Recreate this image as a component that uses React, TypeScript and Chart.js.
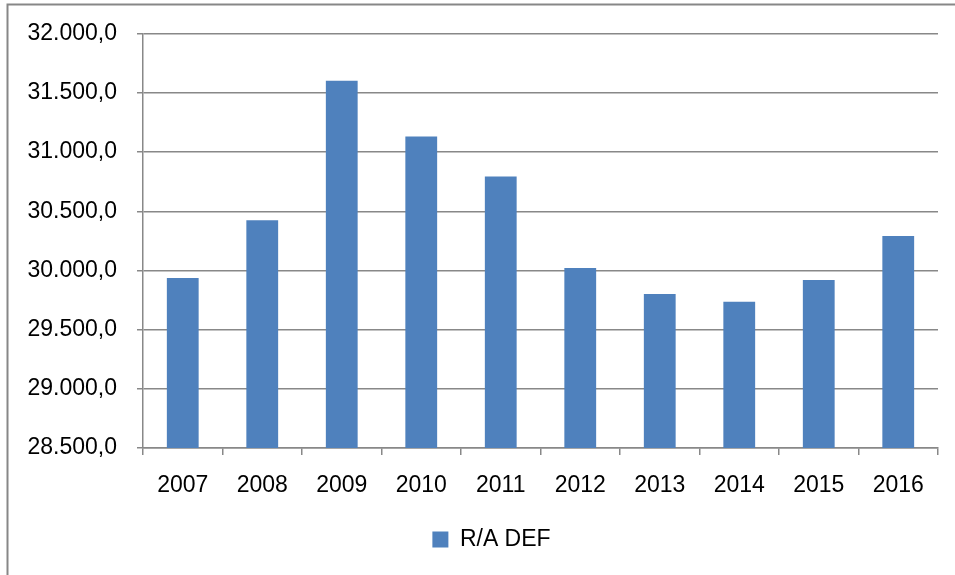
import React, { useEffect, useRef } from "react";
import { Chart, registerables } from "chart.js";

Chart.register(...registerables);

const categories = ["2007", "2008", "2009", "2010", "2011", "2012", "2013", "2014", "2015", "2016"];
const seriesName = "R/A DEF";
const seriesValues = [29936, 30424, 31604, 31132, 30795, 30022, 29801, 29736, 29919, 30292];
const yMin = 28500;
const yMax = 32000;
const yStep = 500;

function fmt(v: number): string {
  const fixed = v.toFixed(1);
  const [intPart, dec] = fixed.split(".");
  const withDots = intPart.replace(/\B(?=(\d{3})+(?!\d))/g, ".");
  return withDots + "," + dec;
}

const borderPlugin = {
  id: "outerBorder",
  afterLayout(chart: any) {
    const lg = chart.legend;
    if (lg) {
      lg.left += 22.5;
      lg.right += 22.5;
    }
  },
  afterDraw(chart: any) {
    const ctx = chart.ctx;
    ctx.save();
    ctx.strokeStyle = "#878787";
    ctx.lineWidth = 2;
    ctx.beginPath();
    ctx.moveTo(7.5, 575);
    ctx.lineTo(7.5, 4.5);
    ctx.lineTo(955, 4.5);
    ctx.stroke();
    ctx.restore();
  },
};

export default function App() {
  const ref = useRef<HTMLCanvasElement | null>(null);
  useEffect(() => {
    if (!ref.current) return;
    const font = { family: "'Liberation Sans', Arial, sans-serif", size: 23 };
    const chart = new Chart(ref.current, {
      type: "bar",
      data: {
        labels: categories,
        datasets: [
          {
            label: seriesName,
            data: seriesValues,
            backgroundColor: "#4F81BD",
            borderWidth: 0,
            categoryPercentage: 1,
            barPercentage: 0.4,
          },
        ],
      },
      options: {
        responsive: false,
        animation: false,
        devicePixelRatio: 1,
        layout: { padding: { top: 32, left: 0, right: 17, bottom: 14 } },
        plugins: {
          tooltip: { enabled: false },
          legend: {
            position: "bottom",
            labels: {
              boxWidth: 16,
              boxHeight: 16,
              padding: 10,
              color: "#000",
              font,
            },
          },
        },
        scales: {
          x: {
            grid: {
              drawOnChartArea: false,
              drawTicks: true,
              tickLength: 7,
              color: "#888888",
              lineWidth: 1.5,
            },
            border: { display: true, color: "#888888", width: 1.5 },
            ticks: { color: "#000", font, padding: 17, maxRotation: 0 },
            afterFit: (s: any) => {
              s.height = 70;
            },
          },
          y: {
            min: yMin,
            max: yMax,
            grid: {
              drawOnChartArea: true,
              drawTicks: true,
              tickLength: 6,
              color: "#888888",
              lineWidth: 1.5,
            },
            border: { display: true, color: "#888888", width: 1.5 },
            ticks: {
              stepSize: yStep,
              color: "#000",
              font,
              padding: 20,
              callback: (v: any) => fmt(Number(v)),
            },
            afterFit: (s: any) => {
              s.width = 143;
            },
          },
        },
      },
      plugins: [borderPlugin],
    });
    return () => chart.destroy();
  }, []);
  return (
    <div style={{ position: "absolute", left: 0, top: 0, width: 955, height: 575, background: "#fff" }}>
      <canvas ref={ref} width={955} height={575} style={{ display: "block" }} />
    </div>
  );
}
